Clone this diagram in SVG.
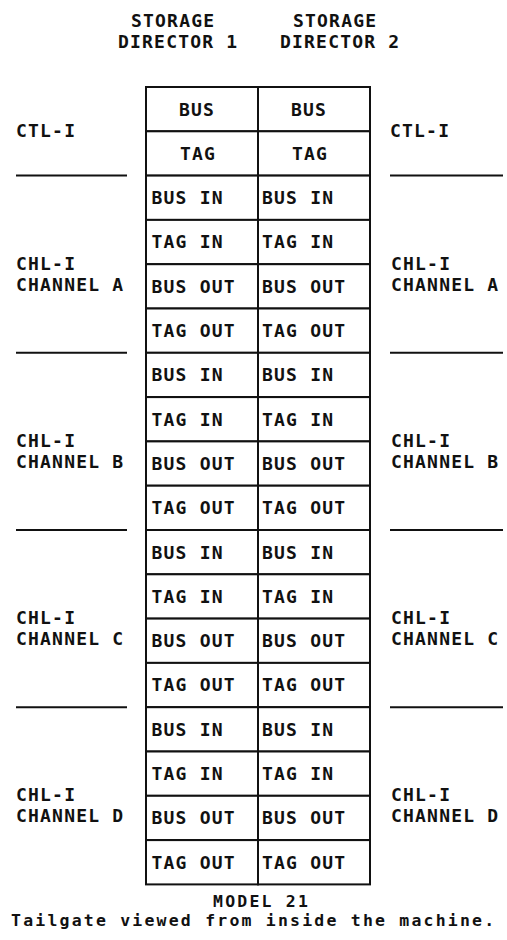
<svg xmlns="http://www.w3.org/2000/svg" width="507" height="940" viewBox="0 0 507 940">
<style>
text{font-family:"DejaVu Sans Mono","Liberation Mono",monospace;font-weight:bold;font-size:18px;letter-spacing:1.2px;fill:#111}
.c{text-anchor:middle}
.cell{fill:#fff;stroke:#111;stroke-width:2}
.sep{stroke:#111;stroke-width:2}
.small{font-size:16.5px;letter-spacing:2.2px}
</style>
<rect width="507" height="940" fill="#fff"/>
<g id="header">
<text x="131" y="27">STORAGE</text>
<text x="118" y="48">DIRECTOR 1</text>
<text x="293" y="27">STORAGE</text>
<text x="280" y="48">DIRECTOR 2</text>
</g>
<g id="labels-left">
<text x="16" y="137">CTL-I</text>
<text x="16" y="270">CHL-I</text><text x="16" y="291">CHANNEL A</text>
<text x="16" y="447">CHL-I</text><text x="16" y="468">CHANNEL B</text>
<text x="16" y="624">CHL-I</text><text x="16" y="645">CHANNEL C</text>
<text x="16" y="801">CHL-I</text><text x="16" y="822">CHANNEL D</text>
</g>
<g id="labels-right">
<text x="390" y="137">CTL-I</text>
<text x="391" y="270">CHL-I</text><text x="391" y="291">CHANNEL A</text>
<text x="391" y="447">CHL-I</text><text x="391" y="468">CHANNEL B</text>
<text x="391" y="624">CHL-I</text><text x="391" y="645">CHANNEL C</text>
<text x="391" y="801">CHL-I</text><text x="391" y="822">CHANNEL D</text>
</g>
<g id="separators">
<line class="sep" x1="16" y1="175.6" x2="127" y2="175.6"/><line class="sep" x1="390" y1="175.6" x2="503" y2="175.6"/>
<line class="sep" x1="16" y1="352.8" x2="127" y2="352.8"/><line class="sep" x1="390" y1="352.8" x2="503" y2="352.8"/>
<line class="sep" x1="16" y1="530" x2="127" y2="530"/><line class="sep" x1="390" y1="530" x2="503" y2="530"/>
<line class="sep" x1="16" y1="707.2" x2="127" y2="707.2"/><line class="sep" x1="390" y1="707.2" x2="503" y2="707.2"/>
</g>
<g id="ctl">
<rect class="cell" x="146" y="87" width="112" height="44.3"/><rect class="cell" x="258" y="87" width="112" height="44.3"/>
<text class="c" x="197" y="115.5">BUS</text><text class="c" x="309" y="115.5">BUS</text>
<rect class="cell" x="146" y="131.3" width="112" height="44.3"/><rect class="cell" x="258" y="131.3" width="112" height="44.3"/>
<text class="c" x="198" y="159.8">TAG</text><text class="c" x="310" y="159.8">TAG</text>
</g>
<g id="channel-a">
<rect class="cell" x="146" y="175.6" width="112" height="44.3"/><rect class="cell" x="258" y="175.6" width="112" height="44.3"/>
<text x="151.5" y="204.1">BUS IN</text><text x="262" y="204.1">BUS IN</text>
<rect class="cell" x="146" y="219.9" width="112" height="44.3"/><rect class="cell" x="258" y="219.9" width="112" height="44.3"/>
<text x="151.5" y="248.4">TAG IN</text><text x="262" y="248.4">TAG IN</text>
<rect class="cell" x="146" y="264.2" width="112" height="44.3"/><rect class="cell" x="258" y="264.2" width="112" height="44.3"/>
<text x="151.5" y="292.7">BUS OUT</text><text x="262" y="292.7">BUS OUT</text>
<rect class="cell" x="146" y="308.5" width="112" height="44.3"/><rect class="cell" x="258" y="308.5" width="112" height="44.3"/>
<text x="151.5" y="337">TAG OUT</text><text x="262" y="337">TAG OUT</text>
</g>
<g id="channel-b">
<rect class="cell" x="146" y="352.8" width="112" height="44.3"/><rect class="cell" x="258" y="352.8" width="112" height="44.3"/>
<text x="151.5" y="381.3">BUS IN</text><text x="262" y="381.3">BUS IN</text>
<rect class="cell" x="146" y="397.1" width="112" height="44.3"/><rect class="cell" x="258" y="397.1" width="112" height="44.3"/>
<text x="151.5" y="425.6">TAG IN</text><text x="262" y="425.6">TAG IN</text>
<rect class="cell" x="146" y="441.4" width="112" height="44.3"/><rect class="cell" x="258" y="441.4" width="112" height="44.3"/>
<text x="151.5" y="469.9">BUS OUT</text><text x="262" y="469.9">BUS OUT</text>
<rect class="cell" x="146" y="485.7" width="112" height="44.3"/><rect class="cell" x="258" y="485.7" width="112" height="44.3"/>
<text x="151.5" y="514.2">TAG OUT</text><text x="262" y="514.2">TAG OUT</text>
</g>
<g id="channel-c">
<rect class="cell" x="146" y="530" width="112" height="44.3"/><rect class="cell" x="258" y="530" width="112" height="44.3"/>
<text x="151.5" y="558.5">BUS IN</text><text x="262" y="558.5">BUS IN</text>
<rect class="cell" x="146" y="574.3" width="112" height="44.3"/><rect class="cell" x="258" y="574.3" width="112" height="44.3"/>
<text x="151.5" y="602.8">TAG IN</text><text x="262" y="602.8">TAG IN</text>
<rect class="cell" x="146" y="618.6" width="112" height="44.3"/><rect class="cell" x="258" y="618.6" width="112" height="44.3"/>
<text x="151.5" y="647.1">BUS OUT</text><text x="262" y="647.1">BUS OUT</text>
<rect class="cell" x="146" y="662.9" width="112" height="44.3"/><rect class="cell" x="258" y="662.9" width="112" height="44.3"/>
<text x="151.5" y="691.4">TAG OUT</text><text x="262" y="691.4">TAG OUT</text>
</g>
<g id="channel-d">
<rect class="cell" x="146" y="707.2" width="112" height="44.3"/><rect class="cell" x="258" y="707.2" width="112" height="44.3"/>
<text x="151.5" y="735.7">BUS IN</text><text x="262" y="735.7">BUS IN</text>
<rect class="cell" x="146" y="751.5" width="112" height="44.3"/><rect class="cell" x="258" y="751.5" width="112" height="44.3"/>
<text x="151.5" y="780">TAG IN</text><text x="262" y="780">TAG IN</text>
<rect class="cell" x="146" y="795.8" width="112" height="44.3"/><rect class="cell" x="258" y="795.8" width="112" height="44.3"/>
<text x="151.5" y="824.3">BUS OUT</text><text x="262" y="824.3">BUS OUT</text>
<rect class="cell" x="146" y="840.1" width="112" height="44.3"/><rect class="cell" x="258" y="840.1" width="112" height="44.3"/>
<text x="151.5" y="868.6">TAG OUT</text><text x="262" y="868.6">TAG OUT</text>
</g>
<g id="caption">
<text class="small" x="213" y="907">MODEL 21</text>
<text class="small" x="11" y="926">Tailgate viewed from inside the machine.</text>
</g>
</svg>
